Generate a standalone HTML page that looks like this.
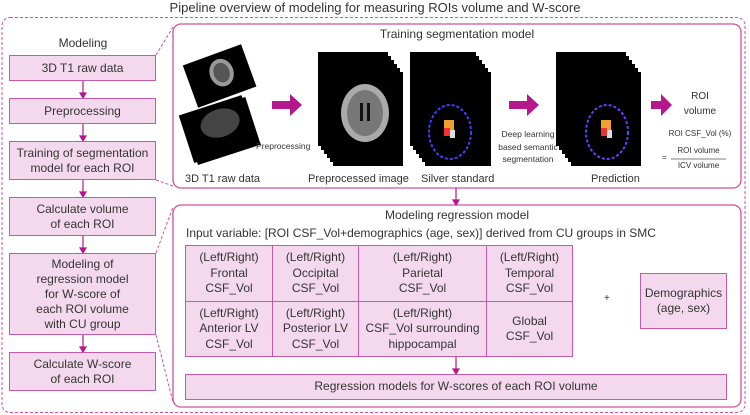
<!DOCTYPE html>
<html><head><meta charset="utf-8"><style>
body{margin:0;width:750px;height:415px;background:#fff;font-family:"Liberation Sans",sans-serif;color:#333;position:relative;overflow:hidden}
.a{position:absolute}
.b{position:absolute;background:#f4d9ee;border:1.5px solid #c65aa6;box-sizing:border-box;display:flex;align-items:center;justify-content:center;text-align:center;font-size:12px;line-height:15px}
.t{position:absolute;font-size:12px;white-space:nowrap}
.c{position:absolute;font-size:12px;line-height:15.5px;text-align:center;display:flex;align-items:center;justify-content:center;box-sizing:border-box;border:1px solid #c65aa6;background:#f4d9ee}
</style></head><body>
<div class="t" style="left:0;width:750px;text-align:center;top:0;font-size:13px">Pipeline overview of modeling for measuring ROIs volume and W-score</div>
<svg class="a" style="left:0;top:0" width="750" height="415">
<rect x="2" y="17.5" width="743" height="395" rx="8" fill="none" stroke="#d0509f" stroke-dasharray="3,2" stroke-width="1"/>
<rect x="173" y="24" width="568" height="164" rx="8" fill="none" stroke="#d0509f" stroke-width="1.3"/>
<rect x="173" y="205" width="568" height="202" rx="8" fill="none" stroke="#d0509f" stroke-width="1.3"/>
<g stroke="#d0509f" stroke-dasharray="3,2" fill="none"><line x1="156" y1="55" x2="173" y2="27"/><line x1="156" y1="180" x2="173" y2="186"/><line x1="156" y1="253" x2="173" y2="207"/><line x1="156" y1="335" x2="173" y2="402"/></g>
<g stroke="#b5178c" stroke-width="1.2" fill="#b5178c">
<line x1="83" y1="81" x2="83" y2="94"/><path d="M80 93h6l-3 5z"/>
<line x1="83" y1="124" x2="83" y2="137"/><path d="M80 136h6l-3 5z"/>
<line x1="83" y1="180" x2="83" y2="193"/><path d="M80 192h6l-3 5z"/>
<line x1="83" y1="236" x2="83" y2="249"/><path d="M80 248h6l-3 5z"/>
<line x1="83" y1="335" x2="83" y2="348"/><path d="M80 347h6l-3 5z"/>
<line x1="456" y1="188" x2="456" y2="201"/><path d="M453 200h6l-3 5z"/>
<line x1="456" y1="357" x2="456" y2="370"/><path d="M453 369h6l-3 5z"/>
</g>
<g fill="#b5178c"><path d="M272 101h18v-7l12 11-12 11v-7h-18z"/><path d="M509 101h18v-7l12 11-12 11v-7h-18z"/><path d="M651 101h10v-7l11 11-11 11v-7h-10z"/></g>
<!-- raw data -->
<g transform="rotate(-20 215 75)"><rect x="188" y="55" width="62" height="45" fill="#000"/><ellipse cx="222" cy="75" rx="12" ry="14" fill="#999"/><ellipse cx="222" cy="75" rx="8" ry="10" fill="#555"/></g>
<g transform="rotate(-18 215 130)"><rect x="185" y="105" width="66" height="50" fill="#000"/><rect x="188" y="108" width="66" height="50" fill="#000"/><ellipse cx="222" cy="125" rx="20" ry="14" fill="#444"/></g>
<!-- stacks -->
<g fill="#000">
<rect x="333" y="72" width="70" height="94"/><rect x="330" y="68" width="70" height="94"/><rect x="327" y="64" width="70" height="94"/><rect x="324" y="60" width="70" height="94"/><rect x="321" y="56" width="70" height="94"/><rect x="318" y="52" width="70" height="94"/>
<rect x="425" y="72" width="66" height="94"/><rect x="422" y="68" width="66" height="94"/><rect x="419" y="64" width="66" height="94"/><rect x="416" y="60" width="66" height="94"/><rect x="413" y="56" width="66" height="94"/><rect x="410" y="52" width="66" height="94"/>
<rect x="571" y="72" width="70" height="94"/><rect x="568" y="68" width="70" height="94"/><rect x="565" y="64" width="70" height="94"/><rect x="562" y="60" width="70" height="94"/><rect x="559" y="56" width="70" height="94"/><rect x="556" y="52" width="70" height="94"/>
</g>
<ellipse cx="365" cy="113" rx="24" ry="29" fill="#aaa"/><ellipse cx="365" cy="113" rx="18" ry="23" fill="#777"/><path d="M360 103h3v18h-3zM367 103h3v18h-3z" fill="#111"/>
<ellipse cx="450" cy="132" rx="21" ry="27" fill="none" stroke="#4a3cff" stroke-width="2" stroke-dasharray="3,2"/><path d="M444 120h10v14h-10z" fill="#f0a030"/><path d="M444 128h6v8h-6z" fill="#e33"/><path d="M450 130h5v8h-5z" fill="#ddd"/>
<ellipse cx="607" cy="132" rx="21" ry="27" fill="none" stroke="#6a3cff" stroke-width="2" stroke-dasharray="3,2"/><path d="M601 120h10v14h-10z" fill="#f0a030"/><path d="M601 128h6v8h-6z" fill="#e33"/><path d="M607 130h5v8h-5z" fill="#ddd"/>
<line x1="671" y1="159" x2="726" y2="159" stroke="#555" stroke-width="0.8"/>
</svg>
<div class="t" style="left:173px;width:568px;text-align:center;top:27px">Training segmentation model</div>
<div class="t" style="left:185px;top:173px;font-size:11px">3D T1 raw data</div>
<div class="t" style="left:256px;top:141px;font-size:8.5px">Preprocessing</div>
<div class="t" style="left:308px;top:173px;font-size:11px">Preprocessed image</div>
<div class="t" style="left:421px;top:173px;font-size:11px">Silver standard</div>
<div class="t" style="left:490px;width:76px;text-align:center;top:128px;font-size:8.5px;line-height:12.5px;white-space:normal">Deep learning based semantic segmentation</div>
<div class="t" style="left:591px;top:173px;font-size:11px">Prediction</div>
<div class="t" style="left:670px;width:60px;text-align:center;top:89px;font-size:10px;line-height:15px;white-space:normal">ROI<br>volume</div>
<div class="t" style="left:665px;width:70px;text-align:center;top:129px;font-size:8px">ROI CSF_Vol (%)</div>
<div class="t" style="left:662px;top:153px;font-size:8px">=</div>
<div class="t" style="left:671px;width:55px;text-align:center;top:146px;font-size:8px">ROI volume</div>
<div class="t" style="left:671px;width:55px;text-align:center;top:161px;font-size:8px">ICV volume</div>

<div class="t" style="left:10px;width:146px;text-align:center;top:36px">Modeling</div>
<div class="b" style="left:9px;top:55px;width:147px;height:26px">3D T1 raw data</div>
<div class="b" style="left:9px;top:98px;width:147px;height:26px">Preprocessing</div>
<div class="b" style="left:9px;top:141px;width:147px;height:39px">Training of segmentation<br>model for each ROI</div>
<div class="b" style="left:9px;top:197px;width:147px;height:39px">Calculate volume<br>of each ROI</div>
<div class="b" style="left:9px;top:253px;width:147px;height:82px">Modeling of<br>regression model<br>for W-score of<br>each ROI volume<br>with CU group</div>
<div class="b" style="left:9px;top:352px;width:147px;height:39px">Calculate W-score<br>of each ROI</div>

<div class="t" style="left:173px;width:568px;text-align:center;top:208px">Modeling regression model</div>
<div class="t" style="left:186px;top:226px">Input variable: [ROI CSF_Vol+demographics (age, sex)] derived from CU groups in SMC</div>
<div class="c" style="left:185px;top:245px;width:88px;height:57px">(Left/Right)<br>Frontal<br>CSF_Vol</div>
<div class="c" style="left:272px;top:245px;width:87px;height:57px">(Left/Right)<br>Occipital<br>CSF_Vol</div>
<div class="c" style="left:358px;top:245px;width:129px;height:57px">(Left/Right)<br>Parietal<br>CSF_Vol</div>
<div class="c" style="left:486px;top:245px;width:87px;height:57px">(Left/Right)<br>Temporal<br>CSF_Vol</div>
<div class="c" style="left:185px;top:301px;width:88px;height:56px">(Left/Right)<br>Anterior LV<br>CSF_Vol</div>
<div class="c" style="left:272px;top:301px;width:87px;height:56px">(Left/Right)<br>Posterior LV<br>CSF_Vol</div>
<div class="c" style="left:358px;top:301px;width:129px;height:56px">(Left/Right)<br>CSF_Vol surrounding<br>hippocampal</div>
<div class="c" style="left:486px;top:301px;width:87px;height:56px">Global<br>CSF_Vol</div>
<div class="t" style="left:604px;top:293px;font-size:10px">+</div>
<div class="c" style="left:640px;top:273px;width:87px;height:56px">Demographics<br>(age, sex)</div>
<div class="c" style="left:185px;top:374px;width:542px;height:26px">Regression models for W-scores of each ROI volume</div>
</body></html>
